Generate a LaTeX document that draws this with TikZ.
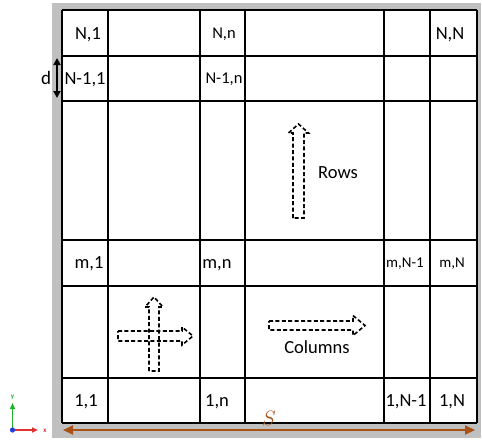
\documentclass[tikz,border=0pt]{standalone}
\usepackage{fontspec}
\setmainfont{Carlito}
\usetikzlibrary{arrows.meta}
\definecolor{bggray}{RGB}{192,192,192}
\definecolor{brownarr}{RGB}{168,82,22}
\definecolor{axgreen}{RGB}{30,180,40}
\definecolor{axred}{RGB}{225,50,50}
\definecolor{axblue}{RGB}{40,60,220}
\begin{document}
\begin{tikzpicture}[x=1pt,y=-1pt,
  gridline/.style={line width=2pt,black},
  big/.style={font=\fontsize{18.5}{20}\selectfont, inner sep=0pt, text height=11.9pt, text depth=0pt},
  mid/.style={font=\fontsize{16.5}{18}\selectfont, inner sep=0pt, text height=10.6pt, text depth=0pt},
  small/.style={font=\fontsize{15}{16}\selectfont, inner sep=0pt, text height=9.7pt, text depth=0pt},
  blockarrow/.style={dash pattern=on 4pt off 2.4pt, line width=1.6pt, line join=miter},
  dimarrow/.style={line width=2pt, {Triangle[length=7pt,width=7pt]}-{Triangle[length=7pt,width=7pt]}}]
\useasboundingbox (0,0) rectangle (482,440);
\fill[bggray] (52,3) rectangle (481,438);
\fill[white] (62,10) rectangle (477,423);
\foreach \x in {62,108,200,245,384,430,477} \draw[gridline] (\x,10) -- (\x,423);
\foreach \y in {10,56,101,240,286,378,423} \draw[gridline] (62,\y) -- (477,\y);

% cell labels
\node[big] (l11) at (88,33.5) {N,1};
\node[mid] (l1n) at (224,33.5) {N,n};
\node[big] (l1N) at (450,33.5) {N,N};
\node[big] (l21) at (85,78.5) {N-1,1};
\node[mid] (l2n) at (224,78.5) {N-1,n};
\node[big] (lm1) at (89,263) {m,1};
\node[big] (lmn) at (217,263) {m,n};
\node[small] (lmN1) at (405,263) {m,N-1};
\node[small] (lmN) at (452,263) {m,N};
\node[big] (lb1) at (86,401) {1,1};
\node[big] (lbn) at (217,401) {1,n};
\node[big] (lbN1) at (406,401) {1,N-1};
\node[big] (lbN) at (452,401) {1,N};

\node[big] (rows) at (338,172.5) {Rows};
\node[big] (cols) at (317,347.5) {Columns};

% rows arrow
\draw[blockarrow] (293,218) -- (293,133) -- (288.5,133) -- (298.5,124) -- (308.5,133) -- (304,133) -- (304,218) -- cycle;
% columns arrow
\draw[blockarrow] (269,321) -- (353,321) -- (353,315.5) -- (365,325.5) -- (353,335.5) -- (353,330) -- (269,330) -- cycle;
% cross arrows
\draw[blockarrow] (118,331) -- (182,331) -- (182,327) -- (193,336) -- (182,345) -- (182,341) -- (118,341) -- cycle;
\draw[blockarrow] (149,371) -- (149,307) -- (145,307) -- (154,297) -- (163,307) -- (159,307) -- (159,371) -- cycle;

% d dimension
\coordinate (dtop) at (57,58);
\coordinate (dbot) at (57,98);
\draw[dimarrow, black] (dtop) -- (dbot);
\node[font=\fontsize{19}{20}\selectfont, inner sep=0pt, text height=13pt, text depth=0pt] (dlab) at (46,78) {d};

% S dimension
\coordinate (sl) at (63,430);
\coordinate (sr) at (475,430);
\draw[brownarr, line width=2pt, {Triangle[length=10pt,width=9pt]}-{Triangle[length=10pt,width=9pt]}] (sl) -- (sr);
\node[brownarr, font=\fontsize{20}{21}\selectfont, inner sep=0pt] (slab) at (269,418) {$S$};

% axes icon
\coordinate (ax0) at (12.5,430);
\coordinate (axy) at (12.5,403);
\coordinate (axx) at (38,430);
\draw[axgreen, line width=1.6pt, -{Triangle[length=6pt,width=5pt]}] (ax0) -- (axy);
\draw[axred, line width=1.6pt, -{Triangle[length=6pt,width=5pt]}] (ax0) -- (axx);
\fill[axblue] (ax0) circle (2.6pt);
\node[axgreen, font=\fontsize{7}{8}\selectfont\bfseries, inner sep=0pt] (ylab) at (12.5,397) {y};
\node[axred, font=\fontsize{7}{8}\selectfont\bfseries, inner sep=0pt] (xlab) at (45,431) {x};
\end{tikzpicture}
\end{document}
